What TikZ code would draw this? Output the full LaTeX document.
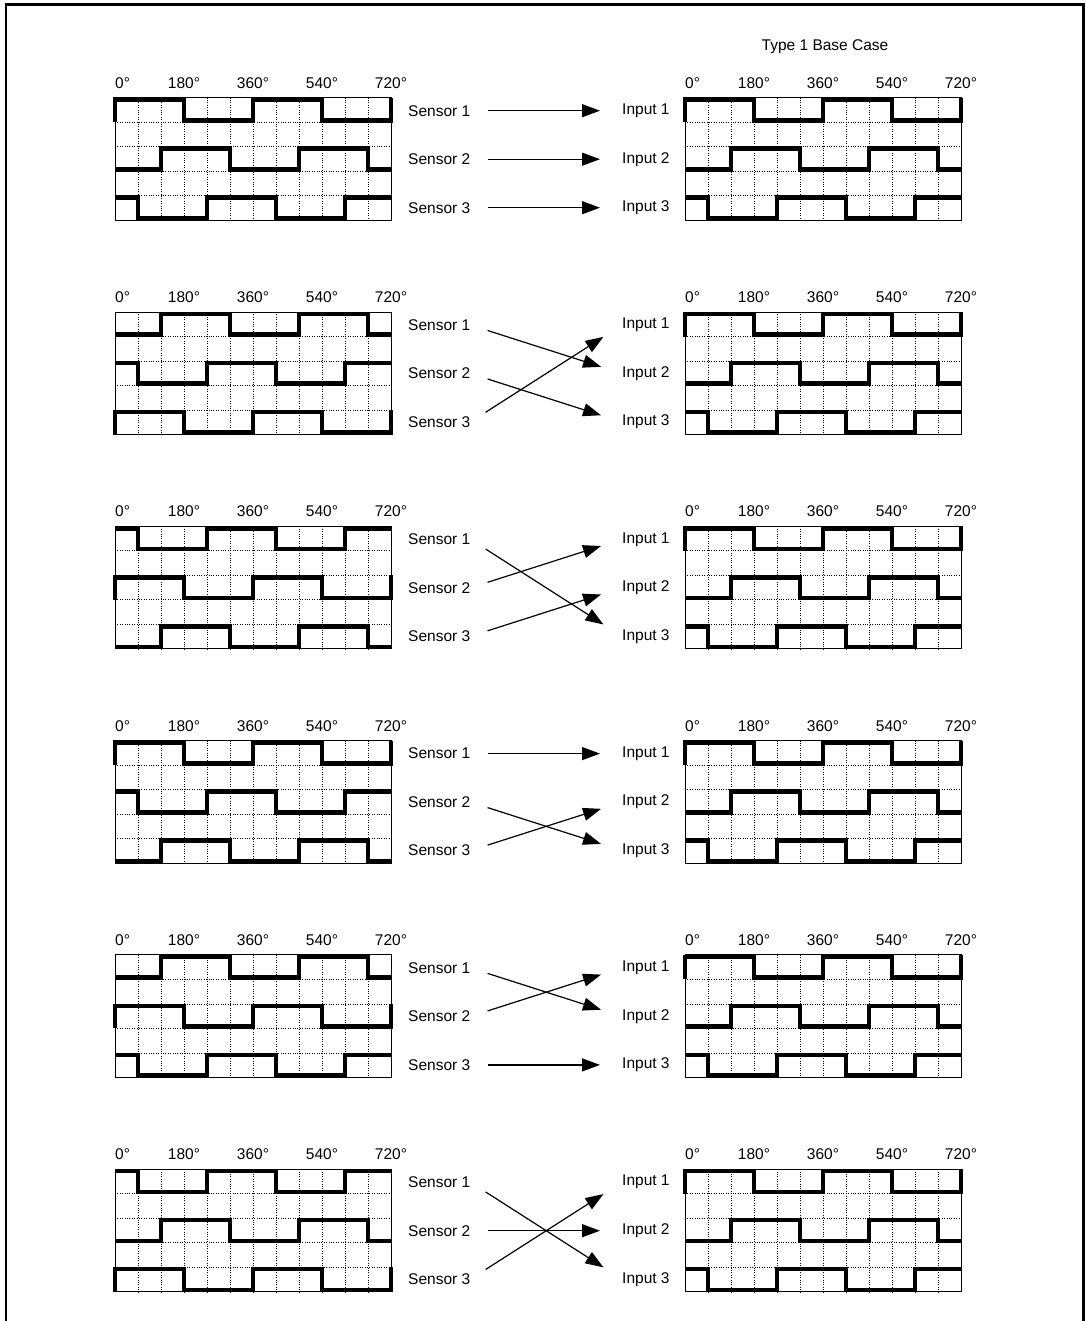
\documentclass[tikz,border=0pt]{standalone}
\usepackage{fontspec}
\setmainfont{Liberation Sans}
\usetikzlibrary{arrows.meta}

\tikzset{
  frame/.style={line width=2.6pt},
  box/.style={line width=0.9pt},
  gridline/.style={line width=0.8pt, dash pattern=on 1pt off 1.4pt},
  wave/.style={line width=4.6pt, line join=miter},
  deg/.style={font=\fontsize{15.5}{18}\selectfont, inner sep=0pt, anchor=base},
  lbl/.style={font=\fontsize{15.5}{18}\selectfont, inner sep=0pt, anchor=west},
  link/.style={line width=1.2pt, -{Triangle[length=18pt,width=13pt]}, shorten <=18pt, shorten >=22pt},
}

% one row is 24.5 high: high level at 1.9, low level at 22.6
\newcommand{\waveA}{\draw[wave] (0,24.5) -- (0,1.9) -- (69,1.9) -- (69,22.6) -- (138,22.6) -- (138,1.9) -- (207,1.9) -- (207,22.6) -- (276,22.6) -- (276,0);}
\newcommand{\waveB}{\draw[wave] (0,22.6) -- (46,22.6) -- (46,1.9) -- (115,1.9) -- (115,22.6) -- (184,22.6) -- (184,1.9) -- (253,1.9) -- (253,22.6) -- (276,22.6);}
\newcommand{\waveC}{\draw[wave] (0,1.9) -- (23,1.9) -- (23,22.6) -- (92,22.6) -- (92,1.9) -- (161,1.9) -- (161,22.6) -- (230,22.6) -- (230,1.9) -- (276,1.9);}

\newcommand{\hallchart}[5]{%
  \begin{scope}[shift={(#1,#2)}]
    \foreach \i in {1,...,11} \draw[gridline] (23*\i,0) -- (23*\i,122.5);
    \foreach \j in {1,...,4} \draw[gridline] (0,24.5*\j) -- (276,24.5*\j);
    \draw[box] (0,0) rectangle (276,122.5);
    \node[deg, anchor=base west] (d0) at (0,-9.5) {0°};
    \foreach \a [count=\k] in {180,360,540,720} \node[deg] (d\a) at (69*\k,-9.5) {\a°};
    \begin{scope}[shift={(0,0)}]#3\end{scope}
    \begin{scope}[shift={(0,49)}]#4\end{scope}
    \begin{scope}[shift={(0,98)}]#5\end{scope}
  \end{scope}}

\newcommand{\sensorsinputs}{%
  \node[lbl] (S1) at (408,13) {Sensor 1};
  \node[lbl] (S2) at (408,61.5) {Sensor 2};
  \node[lbl] (S3) at (408,110) {Sensor 3};
  \node[lbl] (I1) at (622,13) {Input 1};
  \node[lbl] (I2) at (622,61.5) {Input 2};
  \node[lbl] (I3) at (622,110) {Input 3};}

\begin{document}
\begin{tikzpicture}[x=1pt,y=-1pt]
\useasboundingbox (0,0) rectangle (1085,1321);
\draw[frame] (6,1321) -- (6,4.5) -- (1083.5,4.5) -- (1083.5,1321);

\node[lbl, anchor=base] (title) at (825,51) {Type 1 Base Case};

\begin{scope}[shift={(0,97.7)},local bounding box=p1]
  \hallchart{115}{0}{\waveA}{\waveB}{\waveC}
  \hallchart{685}{0}{\waveA}{\waveB}{\waveC}
  \sensorsinputs
  \draw[link] (S1.east) -- (I1.west);
  \draw[link] (S2.east) -- (I2.west);
  \draw[link] (S3.east) -- (I3.west);
\end{scope}

\begin{scope}[shift={(0,312)},local bounding box=p2]
  \hallchart{115}{0}{\waveB}{\waveC}{\waveA}
  \hallchart{685}{0}{\waveA}{\waveB}{\waveC}
  \sensorsinputs
  \draw[link] (S1.east) -- (I2.west);
  \draw[link] (S2.east) -- (I3.west);
  \draw[link] (S3.east) -- (I1.west);
\end{scope}

\begin{scope}[shift={(0,526.3)},local bounding box=p3]
  \hallchart{115}{0}{\waveC}{\waveA}{\waveB}
  \hallchart{685}{0}{\waveA}{\waveB}{\waveC}
  \sensorsinputs
  \draw[link] (S1.east) -- (I3.west);
  \draw[link] (S2.east) -- (I1.west);
  \draw[link] (S3.east) -- (I2.west);
\end{scope}

\begin{scope}[shift={(0,740.6)},local bounding box=p4]
  \hallchart{115}{0}{\waveA}{\waveC}{\waveB}
  \hallchart{685}{0}{\waveA}{\waveB}{\waveC}
  \sensorsinputs
  \draw[link] (S1.east) -- (I1.west);
  \draw[link] (S2.east) -- (I3.west);
  \draw[link] (S3.east) -- (I2.west);
\end{scope}

\begin{scope}[shift={(0,954.9)},local bounding box=p5]
  \hallchart{115}{0}{\waveB}{\waveA}{\waveC}
  \hallchart{685}{0}{\waveA}{\waveB}{\waveC}
  \sensorsinputs
  \draw[link] (S1.east) -- (I2.west);
  \draw[link] (S2.east) -- (I1.west);
  \draw[link] (S3.east) -- (I3.west);
\end{scope}

\begin{scope}[shift={(0,1169.2)},local bounding box=p6]
  \hallchart{115}{0}{\waveC}{\waveB}{\waveA}
  \hallchart{685}{0}{\waveA}{\waveB}{\waveC}
  \sensorsinputs
  \draw[link] (S1.east) -- (I3.west);
  \draw[link] (S2.east) -- (I2.west);
  \draw[link] (S3.east) -- (I1.west);
\end{scope}

\end{tikzpicture}
\end{document}
